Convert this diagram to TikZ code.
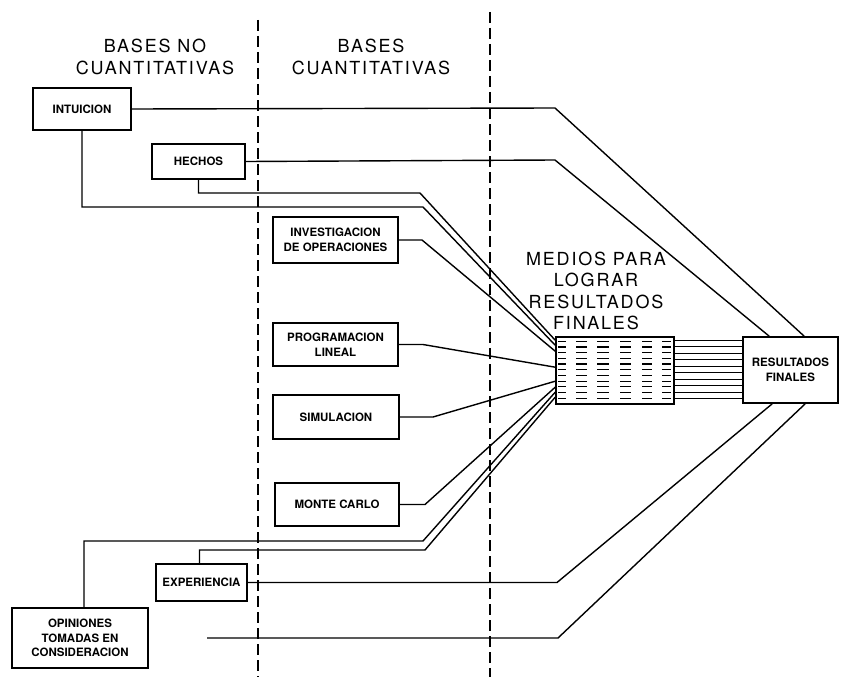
\documentclass[tikz,border=0pt]{standalone}
\usepackage{fontspec}
\setmainfont{TeX Gyre Heros}
\newfontfamily\hdrfont[LetterSpace=10]{TeX Gyre Heros}
\usetikzlibrary{calc}
\begin{document}
\begin{tikzpicture}[x=1pt,y=-1pt,
  box/.style={draw,line width=1.6pt,inner sep=0pt,align=center,font=\fontsize{11.5}{14.5}\selectfont\bfseries},
  link/.style={line width=1.4pt,line join=miter},
  divider/.style={line width=1.6pt,dash pattern=on 11pt off 5pt},
  hdr/.style={align=center,font=\hdrfont\fontsize{18}{21.5}\selectfont,inner sep=0pt},
  dashmark/.style={line width=1.2pt}]
\useasboundingbox[fill=white] (0,0) rectangle (841,677);
% dividers
\draw[divider] (258,20) -- (258,677);
\draw[divider] (490,12) -- (490,677);
% headers
\node[hdr] (h1) at (155,57) {BASES NO\\CUANTITATIVAS};
\node[hdr] (h2) at (371,57) {BASES\\CUANTITATIVAS};
\node[hdr] (medlbl) at (596,291) {MEDIOS PARA\\LOGRAR\\RESULTADOS\\FINALES};
% boxes
\node[box,minimum width=98,minimum height=42] (intu) at (82,109) {INTUICION};
\node[box,minimum width=93,minimum height=35] (hech) at (198.5,161.5) {HECHOS};
\node[box,minimum width=125,minimum height=46] (inv) at (335.5,240) {INVESTIGACION\\DE OPERACIONES};
\node[box,minimum width=125,minimum height=43] (prog) at (335.5,344.5) {PROGRAMACION\\LINEAL};
\node[box,minimum width=126,minimum height=44] (sim) at (336,417) {SIMULACION};
\node[box,minimum width=124,minimum height=43] (monte) at (337,504.5) {MONTE CARLO};
\node[box,minimum width=91,minimum height=37] (exp) at (201.5,582.5) {EXPERIENCIA};
\node[box,minimum width=136,minimum height=60] (opin) at (80,638) {OPINIONES\\TOMADAS EN\\CONSIDERACION};
\node[draw,line width=1.6pt,inner sep=0pt,minimum width=118,minimum height=67] (med) at (615,370.5) {};
\node[box,minimum width=95,minimum height=66] (res) at (790.5,370) {RESULTADOS\\FINALES};
% dashes inside medios box
\foreach \r in {0,...,10}{
  \foreach \a/\b in {3/11,21/32,42/54,65/76,87/97,107/116}{
    \draw[dashmark] ($(med.north west)+(\a,5+\r*5.7)$) -- ($(med.north west)+(\b,5+\r*5.7)$);
  }
}
% parallel lines medios -> resultados
\foreach \i in {0,...,9}{
  \draw[link] ($(med.north east)+(0,4+\i*6.5)$) -- ($(res.north west)+(0,4+\i*6.5)$);
}
% connectors to resultados (top)
\draw[link] (intu.east) -- (555,108) -- ($(res.north west)+(62,0)$);
\draw[link] (hech.east) -- (555,160) -- ($(res.north west)+(27,0)$);
% connectors to medios
\draw[link] (hech.south) -- (198.5,193) -- (420,193) -- ($(med.north west)+(0,4)$);
\draw[link] (intu.south) -- (82,207) -- (423,207) -- ($(med.north west)+(0,9)$);
\draw[link] (inv.east) -- (422,240) -- ($(med.north west)+(0,15)$);
\draw[link] (prog.east) -- (423,344.5) -- ($(med.north west)+(0,31)$);
\draw[link] (sim.east) -- (433,417) -- ($(med.north west)+(0,45)$);
\draw[link] (monte.east) -- (425,504.5) -- ($(med.north west)+(0,51)$);
\draw[link] ($(opin.north)+(4,0)$) -- (84,541) -- (423,541) -- ($(med.north west)+(0,56)$);
\draw[link] ($(exp.north)+(-2,0)$) -- (199.5,550) -- (425,550) -- ($(med.north west)+(0,61)$);
% connectors to resultados (bottom)
\draw[link] (exp.east) -- (557,582.5) -- ($(res.south west)+(30,0)$);
\coordinate (free) at (207,638);
\draw[link] (free) -- (558,638) -- ($(res.south west)+(63,0)$);
\end{tikzpicture}
\end{document}
